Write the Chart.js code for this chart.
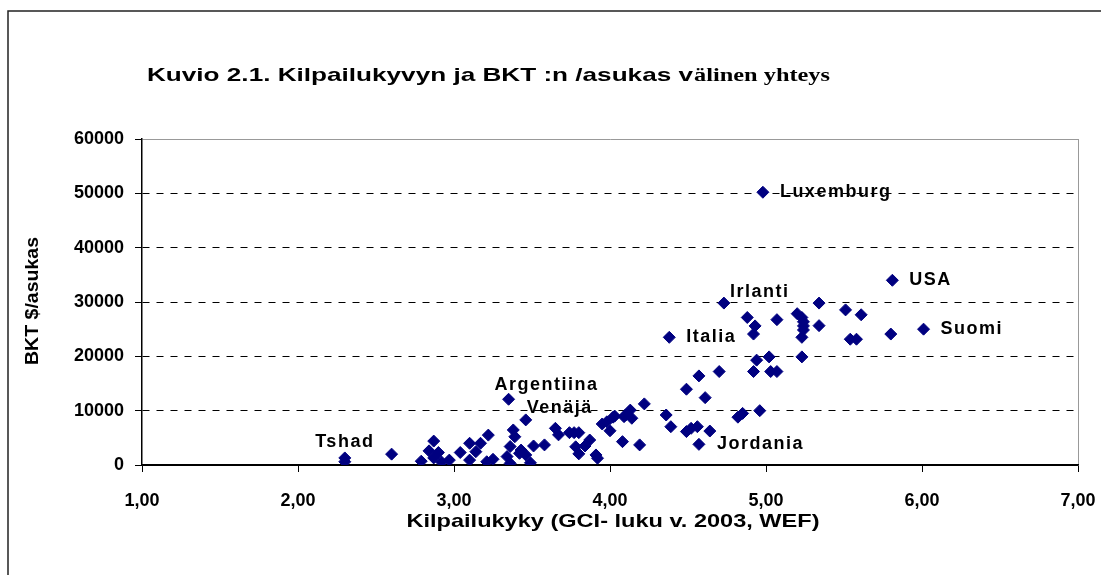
<!DOCTYPE html>
<html>
<head>
<meta charset="utf-8">
<script src="https://cdn.jsdelivr.net/npm/chart.js@4/dist/chart.umd.min.js"></script>
<style>
body{margin:0;background:#fff;}
#wrap{width:1101px;height:575px;position:relative;}
</style>
</head>
<body>
<div id="wrap"><canvas id="chart-1" width="1101" height="575"></canvas></div>
<script>
// GCI 2003 (x) vs BKT $/asukas (y)
const gci=[2.30,2.30,2.60,2.79,2.84,2.87,2.90,2.87,2.92,2.97,3.04,3.10,3.17,3.10,3.14,3.21,3.25,3.22,
  3.35,3.46,3.38,3.39,3.36,3.43,3.42,3.46,3.34,3.36,3.49,3.51,3.58,3.65,3.67,3.74,3.77,3.80,3.78,3.80,
  3.84,3.87,3.91,3.92,3.95,3.98,4.00,4.02,4.08,4.10,4.14,4.13,4.03,4.09,4.19,4.22,4.36,4.39,4.38,4.49,
  4.57,4.61,4.49,4.52,4.56,4.64,4.57,4.70,4.73,4.82,4.85,4.96,4.92,4.94,5.02,5.03,5.07,4.88,4.93,4.92,
  4.98,5.07,5.20,5.23,5.24,5.24,5.24,5.23,5.23,5.34,5.34,5.51,5.61,5.54,5.58,5.81,5.80,6.01];
const bkt=[1300,600,2000,700,2600,4400,2300,1300,550,900,2300,4000,4000,900,2450,600,1050,5500,
  12100,8300,6450,5200,3400,2750,2150,1850,1550,300,400,3500,3700,6750,5550,5950,5950,5950,3350,2050,
  3500,4600,1850,1250,7550,7950,6300,8800,4300,9200,8600,10100,9000,8900,3700,11250,9200,7050,23500,13950,
  16400,12400,6150,6750,7050,6250,3800,17200,29800,8800,9500,10000,17200,19300,19900,17200,17200,27150,25600,24100,
  50200,26750,27850,27150,26350,25600,24850,23500,19900,29800,25650,28550,27650,23150,23150,34000,24100,25000];
// named countries: index into the arrays above
const namedIdx=[0,18,19,56,66,64,78,93,95];
const namedText=['Tshad','Argentiina','Venäjä','Italia','Irlanti','Jordania','Luxemburg','USA','Suomi'];
const xTicks=[1,2,3,4,5,6,7];
const yTicks=[0,10000,20000,30000,40000,50000,60000];

const titleA='Kuvio 2.1. Kilpailukyvyn ja BKT :n /asukas v';
const titleB='älinen yhteys';
const xTitle='Kilpailukyky (GCI- luku v. 2003, WEF)';
const yTitle='BKT $/asukas';

// label placement (px offset from point, text alignment)
const labelPos={
  'Tshad':[0,-16,'center'],'Argentiina':[38,-14,'center'],'Venäjä':[1,-12,'left'],
  'Italia':[17,0,'left'],'Irlanti':[6,-11,'left'],'Jordania':[18,0,'left'],
  'Luxemburg':[17,0,'left'],'USA':[17,0,'left'],'Suomi':[17,0,'left']
};

const SANS='"Liberation Sans", Arial, sans-serif';

// text squeezed/stretched to a given width, like the original picture
function wideText(c,txt,x,y,width,rot){
  const w=c.measureText(txt).width;
  c.save();c.translate(x,y);if(rot)c.rotate(rot);c.scale(width/w,1);c.fillText(txt,0,0);c.restore();
}

const decor={
  id:'decor',
  beforeDraw(chart){
    const c=chart.ctx;
    c.save();
    c.strokeStyle='#222';c.lineWidth=1.5;
    c.beginPath();c.moveTo(8,575);c.lineTo(8,11);c.lineTo(1101,11);c.stroke();
    c.fillStyle='#000';c.textBaseline='alphabetic';c.textAlign='left';
    c.font='bold 19px '+SANS;
    wideText(c,titleA,147,81,546);
    c.font='bold 19px "Liberation Serif", "Times New Roman", serif';
    wideText(c,titleB,694,81,136);
    // axis titles
    c.textBaseline='middle';c.textAlign='center';
    c.font='bold 19px '+SANS;
    wideText(c,xTitle,613,522,413);
    c.font='bold 18px '+SANS;
    wideText(c,yTitle,33,301,128,-Math.PI/2);
    c.restore();
  },
  afterDatasetsDraw(chart){
    const c=chart.ctx,xs=chart.scales.x,ys=chart.scales.y;
    c.save();
    c.fillStyle='#000';
    c.font='bold 18px '+SANS;
    c.letterSpacing='1.5px';
    c.textBaseline='middle';
    namedIdx.forEach((i,k)=>{
      const t=namedText[k],p=labelPos[t];
      const px=xs.getPixelForValue(gci[i]),py=ys.getPixelForValue(bkt[i]);
      c.textAlign=p[2];
      c.fillText(t,px+p[0],py+p[1]);
    });
    c.restore();
  }
};

const tickFont={family:SANS,size:18,weight:'bold'};

new Chart(document.getElementById('chart-1').getContext('2d'),{
  type:'scatter',
  data:{datasets:[{
    data:gci.map((x,i)=>({x,y:bkt[i]})),
    pointStyle:'rectRot',pointRadius:6,pointHoverRadius:6,
    backgroundColor:'#000080',borderColor:'#000080',borderWidth:1
  }]},
  options:{
    responsive:false,animation:false,
    layout:{padding:{left:0,top:139,right:23,bottom:0}},
    plugins:{legend:{display:false},tooltip:{enabled:false},title:{display:false}},
    scales:{
      x:{
        type:'linear',min:1,max:7,
        afterBuildTicks:s=>{s.ticks=xTicks.map(v=>({value:v}));},
        afterFit:s=>{s.height=110;s.paddingLeft=0;s.paddingRight=0;},
        ticks:{color:'#000',font:tickFont,padding:18,maxRotation:0,
          callback:v=>v.toFixed(2).replace('.',',')},
        grid:{drawOnChartArea:true,color:c=>c.tick&&c.tick.value===7?'#999':'rgba(0,0,0,0)',
          tickColor:'#000',tickLength:7,lineWidth:1},
        border:{display:true,color:'#000',width:1.5}
      },
      y:{
        min:0,max:60000,
        afterBuildTicks:s=>{s.ticks=yTicks.map(v=>({value:v}));},
        afterFit:s=>{s.width=142;s.paddingTop=0;s.paddingBottom=0;},
        ticks:{color:'#000',font:tickFont,padding:11,callback:v=>String(v)},
        grid:{color:c=>c.tick&&c.tick.value===60000?'#999':'#000',tickColor:'#000',tickLength:7,lineWidth:1},
        border:{display:true,color:'#000',width:1.5,
          dash:c=>c.tick&&c.tick.value>0&&c.tick.value<60000?[7,7]:[]}
      }
    }
  },
  plugins:[decor]
});
</script>
</body>
</html>
